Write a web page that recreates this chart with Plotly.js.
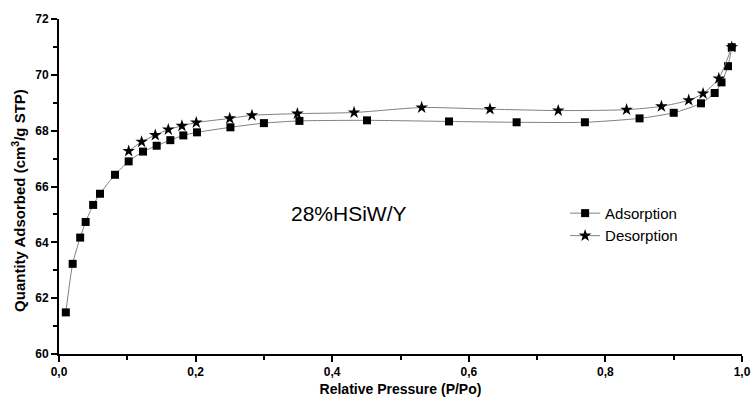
<!DOCTYPE html>
<html>
<head>
<meta charset="utf-8">
<script src="https://cdn.plot.ly/plotly-3.0.1.min.js"></script>
<style>html,body{margin:0;padding:0;background:#fff;}#chart{width:753px;height:405px;}</style>
</head>
<body>
<div id="chart"></div>
<script>
const adsP = [0.01,0.02,0.031,0.039,0.05,0.06,0.082,0.102,0.123,0.143,0.163,0.182,0.202,0.251,0.30,0.352,0.451,0.571,0.67,0.77,0.85,0.90,0.94,0.96,0.97,0.9795,0.985];
const adsQ = [61.49,63.23,64.17,64.73,65.34,65.74,66.42,66.9,67.25,67.46,67.66,67.83,67.94,68.12,68.27,68.35,68.37,68.33,68.30,68.30,68.44,68.64,68.98,69.35,69.73,70.31,70.99];
const desP = [0.102,0.121,0.141,0.160,0.180,0.201,0.250,0.2825,0.349,0.432,0.531,0.631,0.731,0.831,0.882,0.922,0.943,0.966,0.985];
const desQ = [67.27,67.60,67.84,68.04,68.17,68.29,68.44,68.55,68.61,68.65,68.83,68.77,68.72,68.75,68.87,69.09,69.33,69.87,70.99];
const seriesNames = ["Adsorption","Desorption"];
const sampleLabel = "28%HSiW/Y";
const xTitle = "Relative Pressure (P/Po)";
const yTitle = "Quantity Adsorbed (cm<sup>3</sup>/g STP)";

const F = "Arial, 'Liberation Sans', sans-serif";
const traces = [
  {x: adsP, y: adsQ, name: seriesNames[0], mode: "lines+markers", type: "scatter",
   line: {color: "#808080", width: 1, shape: "spline", smoothing: 0.6},
   marker: {symbol: "square", size: 8, color: "#000"}},
  {x: desP, y: desQ, name: seriesNames[1], mode: "lines+markers", type: "scatter",
   line: {color: "#808080", width: 1, shape: "spline", smoothing: 0.6},
   marker: {symbol: "star", size: 9.5, color: "#000"}}
];
const axisCommon = {
  showline: true, linecolor: "#000", linewidth: 2, showgrid: false, zeroline: false,
  ticks: "outside", ticklen: 6, tickwidth: 2, tickcolor: "#000",
  tickfont: {family: F, size: 12, color: "#000", weight: "bold"},
  mirror: false
};
const layout = {
  width: 753, height: 405,
  margin: {l: 59, r: 11, t: 19, b: 51},
  paper_bgcolor: "#fff", plot_bgcolor: "#fff",
  separators: ",.",
  showlegend: true,
  font: {family: F, color: "#000"},
  xaxis: Object.assign({}, axisCommon, {
    range: [0, 1], dtick: 0.2, tickformat: ".1f",
    minor: {dtick: 0.1, ticks: "outside", ticklen: 4, tickwidth: 2, tickcolor: "#000"},
    title: {text: xTitle, font: {family: F, size: 14, color: "#000", weight: "bold"}, standoff: 6}
  }),
  yaxis: Object.assign({}, axisCommon, {
    range: [60, 72], dtick: 2, tickformat: "d",
    minor: {dtick: 1, ticks: "outside", ticklen: 4, tickwidth: 2, tickcolor: "#000"}
  }),
  legend: {x: 0.741, y: 0.469, xanchor: "left", yanchor: "top", bgcolor: "rgba(0,0,0,0)",
    font: {family: F, size: 15, color: "#000"}, itemwidth: 30, tracegroupgap: 0},
  annotations: [
    {x: 0.4245, y: 65.05, xref: "x", yref: "y", text: sampleLabel, showarrow: false,
     font: {family: F, size: 21, color: "#000"}},
    {x: -0.0601, y: 0.4597, xref: "paper", yref: "paper", text: yTitle, showarrow: false,
     textangle: -90, xanchor: "center", yanchor: "middle",
     font: {family: F, size: 15, color: "#000", weight: "bold"}}
  ]
};
Plotly.newPlot("chart", traces, layout, {staticPlot: true, displayModeBar: false});
</script>
</body>
</html>
